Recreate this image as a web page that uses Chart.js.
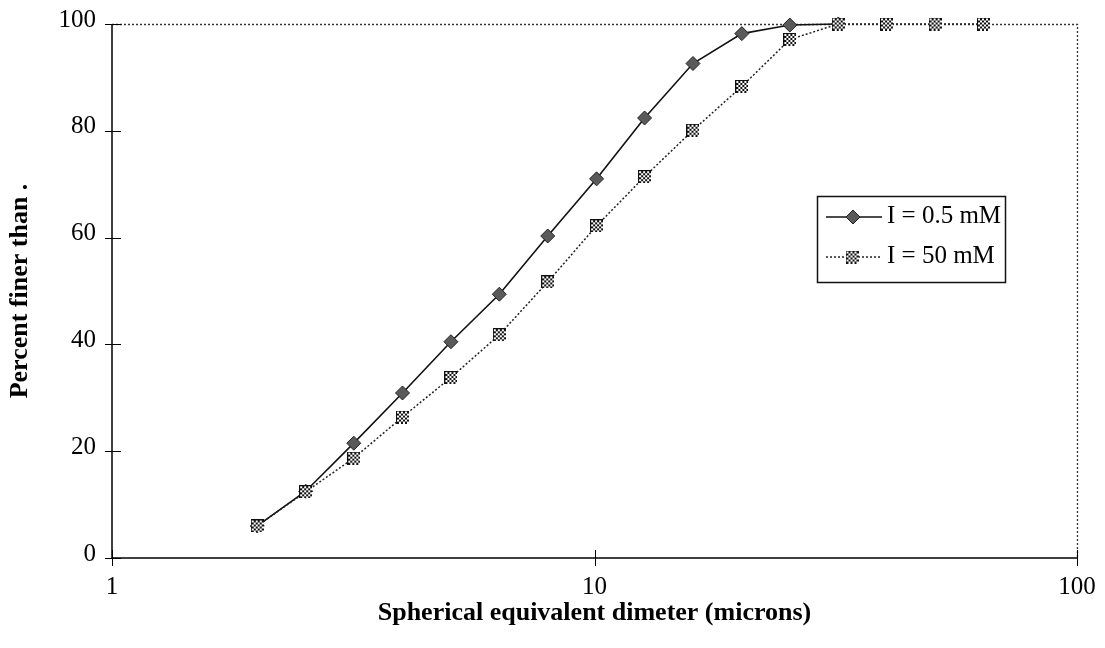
<!DOCTYPE html>
<html>
<head>
<meta charset="utf-8">
<script src="https://cdn.jsdelivr.net/npm/chart.js@4/dist/chart.umd.min.js"></script>
<style>
  html, body { margin: 0; padding: 0; background: #fff; }
  canvas { display: block; }
</style>
</head>
<body>
<canvas id="c" width="1105" height="648"></canvas>
<script>
// Particle size distribution (sedimentation) at two ionic strengths
const diameters = [2, 2.52, 3.17, 4, 5.04, 6.35, 8, 10.1, 12.7, 16, 20.2, 25.4, 32, 40.3, 50.8, 64];
const lowIonic  = [6, 12.5, 21.5, 30.9, 40.5, 49.4, 60.3, 71, 82.4, 92.6, 98.2, 99.8, 100];
const highIonic = [6, 12.4, 18.7, 26.4, 33.8, 41.8, 51.7, 62.2, 71.4, 80.1, 88.3, 97.1, 100, 100, 100, 100];
const seriesNames = ['I = 0.5 mM', 'I = 50 mM'];
const xTickValues = [1, 10, 100];
const yTickValues = [0, 20, 40, 60, 80, 100];
const xTitle = 'Spherical equivalent dimeter (microns)';
const yTitle = 'Percent finer than .';

const SERIF = '"Liberation Serif", "Times New Roman", serif';

// Checkered halftone square used as the marker of the second series
function halftoneSquare(size) {
  const c = document.createElement('canvas');
  c.width = size; c.height = size;
  const g = c.getContext('2d');
  g.fillStyle = '#111';
  g.fillRect(0, 0, size, size);
  g.fillStyle = '#fff';
  for (let j = 0; j * 2 + 1 < size - 1; j++) {
    for (let i = 0; i * 2 + 1 < size - 1; i++) {
      if ((i + j) % 2 === 0) g.fillRect(1 + i * 2, 1 + j * 2, 2, 2);
    }
  }
  return c;
}
const squareMark = halftoneSquare(13);

const toPoints = (xs, ys) => ys.map((v, i) => ({ x: xs[i], y: v }));

// Axis lines, crossing tick marks and the dotted upper/right frame
const framePlugin = {
  id: 'frame',
  beforeDatasetsDraw(chart) {
    const { ctx, chartArea: a, scales: { x, y } } = chart;
    ctx.save();
    ctx.strokeStyle = '#333';
    ctx.lineWidth = 1.3;
    ctx.setLineDash([2, 2]);
    ctx.beginPath();
    ctx.moveTo(a.left, a.top + 0.5);
    ctx.lineTo(a.right + 0.5, a.top + 0.5);
    ctx.lineTo(a.right + 0.5, a.bottom);
    ctx.stroke();
    ctx.setLineDash([]);
    ctx.strokeStyle = '#000';
    ctx.lineWidth = 1.5;
    ctx.beginPath();
    ctx.moveTo(a.left, a.top);
    ctx.lineTo(a.left, a.bottom);
    ctx.lineTo(a.right, a.bottom);
    ctx.stroke();
    ctx.lineWidth = 1;
    ctx.beginPath();
    yTickValues.forEach(v => {
      const p = Math.round(y.getPixelForValue(v)) + 0.5;
      ctx.moveTo(a.left - 7, p);
      ctx.lineTo(a.left + 9, p);
    });
    xTickValues.forEach(v => {
      const p = Math.round(x.getPixelForValue(v)) + 0.5;
      ctx.moveTo(p, a.bottom - 8);
      ctx.lineTo(p, a.bottom + 8);
    });
    ctx.stroke();
    ctx.restore();
  }
};

// Boxed legend inside the plot area
const legendPlugin = {
  id: 'boxLegend',
  afterDraw(chart) {
    const { ctx } = chart;
    const bx = 817, by = 196, bw = 188, bh = 86;
    ctx.save();
    ctx.fillStyle = '#fff';
    ctx.fillRect(bx, by, bw, bh);
    ctx.strokeStyle = '#111';
    ctx.lineWidth = 1.5;
    ctx.strokeRect(bx + 0.5, by + 0.5, bw, bh);

    // row 1: solid line with diamond
    const r1 = 217;
    ctx.lineWidth = 1.5;
    ctx.strokeStyle = '#111';
    ctx.beginPath();
    ctx.moveTo(826, r1); ctx.lineTo(882, r1);
    ctx.stroke();
    ctx.beginPath();
    ctx.moveTo(853, r1 - 7); ctx.lineTo(860, r1); ctx.lineTo(853, r1 + 7); ctx.lineTo(846, r1);
    ctx.closePath();
    ctx.fillStyle = '#5a5a5a';
    ctx.fill();
    ctx.lineWidth = 1;
    ctx.strokeStyle = '#222';
    ctx.stroke();

    // row 2: dotted line with halftone square
    const r2 = 257;
    ctx.lineWidth = 1.5;
    ctx.strokeStyle = '#222';
    ctx.setLineDash([2, 2]);
    ctx.beginPath();
    ctx.moveTo(826, r2); ctx.lineTo(880, r2);
    ctx.stroke();
    ctx.setLineDash([]);
    ctx.drawImage(squareMark, 852 - 6.5, r2 - 6.5);

    ctx.fillStyle = '#000';
    ctx.font = '25px ' + SERIF;
    ctx.textBaseline = 'middle';
    ctx.textAlign = 'left';
    ctx.fillText(seriesNames[0], 887, r1 - 1);
    ctx.fillText(seriesNames[1], 887, r2 - 1);
    ctx.restore();
  }
};

new Chart(document.getElementById('c'), {
  type: 'line',
  data: {
    datasets: [
      {
        label: seriesNames[0],
        data: toPoints(diameters, lowIonic),
        borderColor: '#111',
        borderWidth: 1.6,
        pointStyle: 'rectRot',
        pointRadius: 7,
        pointBackgroundColor: '#5a5a5a',
        pointBorderColor: '#222',
        pointBorderWidth: 1,
        tension: 0,
        clip: false,
        order: 1
      },
      {
        label: seriesNames[1],
        data: toPoints(diameters, highIonic),
        borderColor: '#222',
        borderWidth: 1.5,
        borderDash: [2, 2],
        pointStyle: squareMark,
        tension: 0,
        clip: false,
        order: 0
      }
    ]
  },
  options: {
    responsive: false,
    devicePixelRatio: 1,
    animation: false,
    events: [],
    layout: { padding: { top: 24, right: 28, left: 0, bottom: 0 } },
    plugins: { legend: { display: false }, tooltip: { enabled: false } },
    scales: {
      x: {
        type: 'logarithmic',
        min: 1,
        max: 100,
        afterBuildTicks: s => { s.ticks = xTickValues.map(v => ({ value: v })); },
        afterFit: s => { s.height = 90; s.paddingLeft = 0; s.paddingRight = 0; },
        grid: { display: false, drawTicks: false },
        border: { display: false },
        ticks: {
          autoSkip: false,
          maxRotation: 0,
          padding: 14,
          color: '#000',
          font: { family: SERIF, size: 25 },
          callback: v => String(v)
        },
        title: {
          display: true,
          text: xTitle,
          color: '#000',
          font: { family: SERIF, size: 26, weight: 'bold' },
          padding: { top: 0, bottom: 19 }
        }
      },
      y: {
        min: 0,
        max: 100,
        afterBuildTicks: s => { s.ticks = yTickValues.map(v => ({ value: v })); },
        afterFit: s => { s.width = 112; s.paddingTop = 0; s.paddingBottom = 0; },
        grid: { display: false, drawTicks: false },
        border: { display: false },
        ticks: {
          padding: 16,
          labelOffset: -4,
          color: '#000',
          font: { family: SERIF, size: 25 }
        },
        title: {
          display: true,
          text: yTitle,
          color: '#000',
          font: { family: SERIF, size: 26, weight: 'bold' },
          padding: { top: 5, bottom: 0 }
        }
      }
    }
  },
  plugins: [framePlugin, legendPlugin]
});
</script>
</body>
</html>
